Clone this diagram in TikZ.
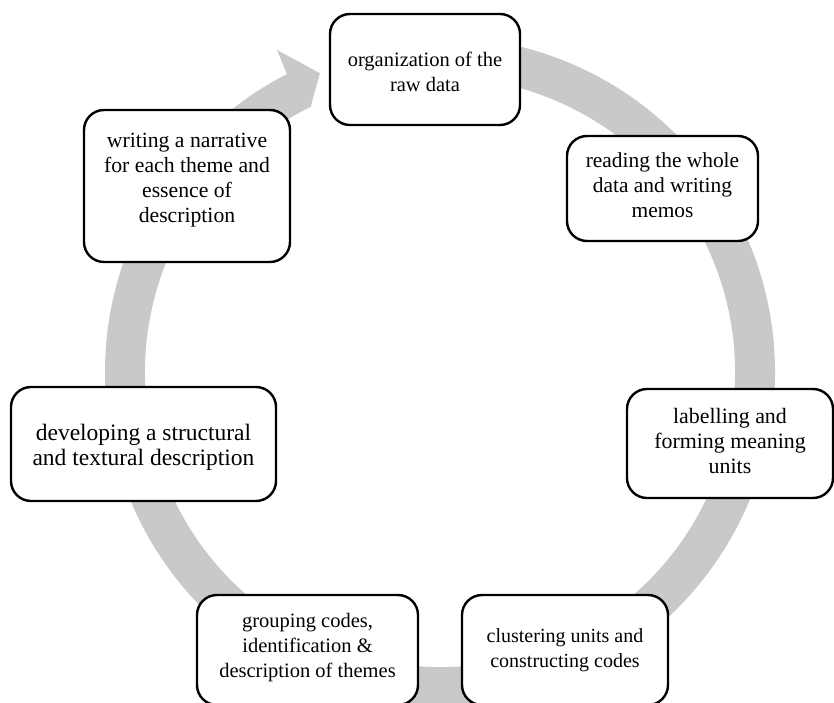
\documentclass[tikz,border=0pt]{standalone}
\usepackage{fontspec}
\setmainfont{Liberation Serif}
\usetikzlibrary{calc}
\definecolor{ringgray}{RGB}{201,201,201}
\newcommand{\stagetext}[2]{\raisebox{#1}[\height][\depth]{\begin{tabular}{@{}c@{}}#2\end{tabular}}}
\begin{document}
\begin{tikzpicture}[x=1pt,y=1pt,
  stagebox/.style={draw=black, line width=2.4pt, fill=white, rounded corners=20pt,
    align=center, inner sep=0pt, font=\fontsize{20.5}{25}\selectfont},
  ringfill/.style={fill=ringgray, draw=none}]
\useasboundingbox (0,0) rectangle (834,702);
\coordinate (c) at (440,330);
% circular arrow band
\fill[ringfill] ($(c)+(95:335)$) arc[start angle=95, end angle=-242.8, radius=335]
  -- ($(c)+(116.85:361)$) -- ($(c)+(111.9:322)$) -- ($(c)+(116:295)$)
  arc[start angle=-244, end angle=95, radius=295] -- cycle;
% stages
\node[stagebox, minimum width=190pt, minimum height=111pt] (s1) at (425,632.5)
  {\stagetext{-5pt}{organization of the\\raw data}};
\node[stagebox, minimum width=191pt, minimum height=105pt,
  font=\fontsize{21.4}{25}\selectfont] (s2) at (662.5,513.5)
  {\stagetext{1pt}{reading the whole\\data and writing\\memos}};
\node[stagebox, minimum width=206pt, minimum height=109pt,
  font=\fontsize{21.9}{25}\selectfont] (s3) at (730,258.5)
  {\stagetext{0pt}{labelling and\\forming meaning\\units}};
\node[stagebox, minimum width=206pt, minimum height=110pt,
  font=\fontsize{20}{25}\selectfont] (s4) at (565,52)
  {\stagetext{0pt}{clustering units and\\constructing codes}};
\node[stagebox, minimum width=221pt, minimum height=110pt] (s5) at (307.5,52)
  {\stagetext{3pt}{grouping codes,\\identification \&\\description of themes}};
\node[stagebox, minimum width=265pt, minimum height=114pt,
  font=\fontsize{23.5}{24.5}\selectfont] (s6) at (143.5,258)
  {\stagetext{-4pt}{developing a structural\\and textural description}};
\node[stagebox, minimum width=206pt, minimum height=152pt,
  font=\fontsize{21.7}{25}\selectfont] (s7) at (187,516)
  {\stagetext{6pt}{writing a narrative\\for each theme and\\essence of\\description}};
\end{tikzpicture}
\end{document}
